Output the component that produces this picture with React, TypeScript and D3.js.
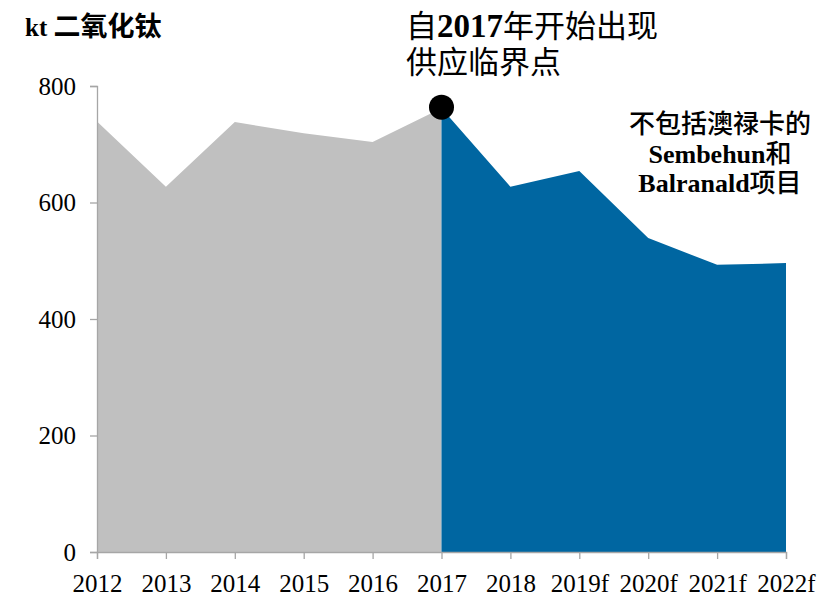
import React, { useEffect, useRef } from 'react';
import * as d3 from 'd3';

const years = ['2012', '2013', '2014', '2015', '2016', '2017', '2018', '2019f', '2020f', '2021f', '2022f'];
const historical = [739, 627, 738, 719, 704, 762];
const forecast = [762, 627, 654, 539, 493, 496];
const yTicks = [0, 200, 400, 600, 800];

const serif = '"Liberation Serif", "Times New Roman", "Noto Sans CJK SC", serif';
const cjk = '"Noto Sans CJK SC", sans-serif';

const App: React.FC = () => {
  const svgRef = useRef<SVGSVGElement>(null);

  useEffect(() => {
    if (!svgRef.current) return;
    const svg = d3.select(svgRef.current);
    svg.selectAll('*').remove();

    const x = d3.scalePoint<string>().domain(years).range([97, 786]);
    const y = d3.scaleLinear().domain([0, 800]).range([552, 86]);

    const area = d3.area<[string, number]>()
      .x(d => x(d[0]) as number)
      .y0(y(0))
      .y1(d => y(d[1]));

    const histPts = historical.map((v, i) => [years[i], v] as [string, number]);
    const forePts = forecast.map((v, i) => [years[i + 5], v] as [string, number]);

    svg.append('path').attr('d', area(histPts)).attr('fill', '#c0c0c0');
    svg.append('path').attr('d', area(forePts)).attr('fill', '#0066a1');

    // axes
    const yAxis = svg.append('g')
      .attr('transform', 'translate(97,0)')
      .call(d3.axisLeft(y).tickValues(yTicks).tickSize(7).tickPadding(14));
    const xAxis = svg.append('g')
      .attr('transform', 'translate(0,552)')
      .call(d3.axisBottom(x).tickSize(7).tickPadding(15));

    [yAxis, xAxis].forEach(g => {
      g.selectAll('path,line').attr('stroke', '#a6a6a6').attr('stroke-width', 1.3);
      g.selectAll('text')
        .attr('fill', '#000')
        .style('font-family', serif)
        .style('font-size', '25px');
    });

    // peak marker
    svg.append('circle')
      .attr('cx', x('2017') as number)
      .attr('cy', y(762) - 1)
      .attr('r', 12.5)
      .attr('fill', '#000');

    // unit label
    const unit = svg.append('text')
      .attr('x', 25).attr('y', 36)
      .style('font-size', '25px').style('font-weight', 700)
      .style('font-family', serif);
    unit.append('tspan').text('kt ');
    unit.append('tspan').style('font-family', cjk).style('font-size', '27px').text('二氧化钛');

    // top annotation
    const a1 = svg.append('text').attr('x', 406).attr('y', 37)
      .style('font-size', '31px').style('font-family', cjk);
    a1.append('tspan').text('自');
    a1.append('tspan').style('font-family', serif).style('font-weight', 700).style('font-size', '33px').text('2017');
    a1.append('tspan').text('年开始出现');
    svg.append('text').attr('x', 406).attr('y', 73)
      .style('font-size', '31px').style('font-family', cjk)
      .text('供应临界点');

    // right annotation
    const lines = [
      [{ t: '不包括澳禄卡的', f: cjk }],
      [{ t: 'Sembehun', f: serif }, { t: '和', f: cjk }],
      [{ t: 'Balranald', f: serif }, { t: '项目', f: cjk }],
    ];
    lines.forEach((ln, i) => {
      const t = svg.append('text')
        .attr('x', 720).attr('y', 133 + i * 29.5)
        .attr('text-anchor', 'middle')
        .style('font-size', '26px');
      ln.forEach(s => t.append('tspan')
        .style('font-family', s.f)
        .style('font-weight', s.f === serif ? 700 : 500)
        .text(s.t));
    });
  }, []);

  return (
    <div style={{ position: 'absolute', left: 0, top: 0 }}>
      <svg ref={svgRef} width={820} height={599} style={{ display: 'block', background: '#fff' }} />
    </div>
  );
};

export default App;
